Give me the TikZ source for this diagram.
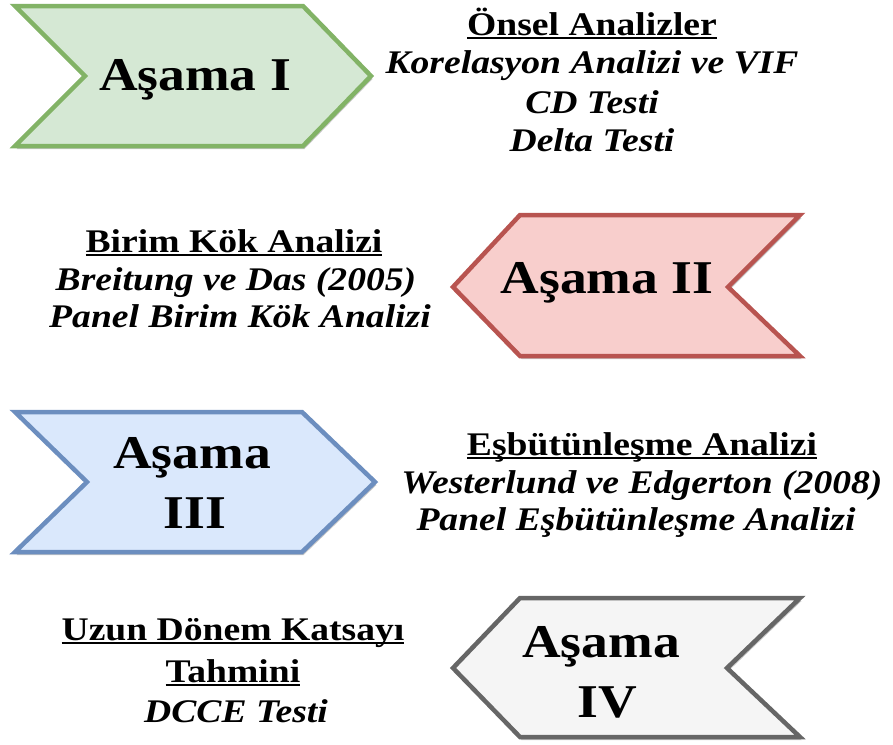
\documentclass[tikz,border=0pt]{standalone}
\usepackage{fontspec}
\setmainfont{Liberation Serif}[FakeStretch=1.14]
\usetikzlibrary{shadows}
\definecolor{gfill}{RGB}{213,232,212}
\definecolor{gline}{RGB}{130,179,102}
\definecolor{rfill}{RGB}{248,206,204}
\definecolor{rline}{RGB}{184,84,80}
\definecolor{bfill}{RGB}{218,232,252}
\definecolor{bline}{RGB}{108,142,191}
\definecolor{kfill}{RGB}{245,245,245}
\definecolor{kline}{RGB}{102,102,102}
\newcommand\ulbox[1]{\setbox0=\hbox{#1}\rlap{\rule[-0.12em]{\wd0}{0.055em}}\box0}
\tikzset{
 stage/.style={line width=4.5pt, line join=miter, drop shadow={opacity=0.22, shadow xshift=1.5pt, shadow yshift=-3pt, fill=black}},
 big/.style={font=\fontsize{47}{56}\selectfont\bfseries, anchor=base, inner sep=0pt},
 head/.style={font=\fontsize{33}{38}\selectfont\bfseries, anchor=base, inner sep=0pt},
 item/.style={font=\fontsize{33}{38}\selectfont\bfseries\itshape, anchor=base, inner sep=0pt},
}
\begin{document}
\begin{tikzpicture}[x=1pt,y=-1pt]
\useasboundingbox (0,0) rectangle (893,744);
% shapes
\path[stage, draw=gline, fill=gfill] (15,6) -- (303,6) -- (371,76) -- (303,146) -- (15,146) -- (85,76) -- cycle;
\path[stage, draw=rline, fill=rfill] (520,215) -- (800,215) -- (728,287) -- (800,356) -- (520,356) -- (453,287) -- cycle;
\path[stage, draw=bline, fill=bfill] (15,412) -- (302,412) -- (375,482) -- (302,552) -- (15,552) -- (87,482) -- cycle;
\path[stage, draw=kline, fill=kfill] (520,598) -- (800,598) -- (727,668) -- (800,737) -- (520,737) -- (453,668) -- cycle;
% stage labels
\node[big] (s1) at (195,90) {Aşama I};
\node[big] (s2) at (607,293) {Aşama II};
\node[big] (s3a) at (192,468) {Aşama};
\node[big] (s3b) at (195,528) {III};
\node[big] (s4a) at (601,657) {Aşama};
\node[big] (s4b) at (607,717) {IV};
% block I
\node[head] (h1) at (592,35) {\ulbox{Önsel Analizler}};
\node[item] (i1a) at (592,73) {Korelasyon Analizi ve VIF};
\node[item] (i1b) at (592,113) {CD Testi};
\node[item] (i1c) at (592,151) {Delta Testi};
% block II
\node[head] (h2) at (234,252) {\ulbox{Birim Kök Analizi}};
\node[item] (i2a) at (236,290) {Breitung ve Das (2005)};
\node[item] (i2b) at (240,327) {Panel Birim Kök Analizi};
% block III
\node[head] (h3) at (642,455) {\ulbox{Eşbütünleşme Analizi}};
\node[item] (i3a) at (642,493) {Westerlund ve Edgerton (2008)};
\node[item] (i3b) at (636,530) {Panel Eşbütünleşme Analizi};
% block IV
\node[head] (h4a) at (233,640) {\ulbox{Uzun Dönem Katsayı}};
\node[head] (h4b) at (233,682) {\ulbox{Tahmini}};
\node[item] (i4a) at (236,722) {DCCE Testi};
\end{tikzpicture}
\end{document}
